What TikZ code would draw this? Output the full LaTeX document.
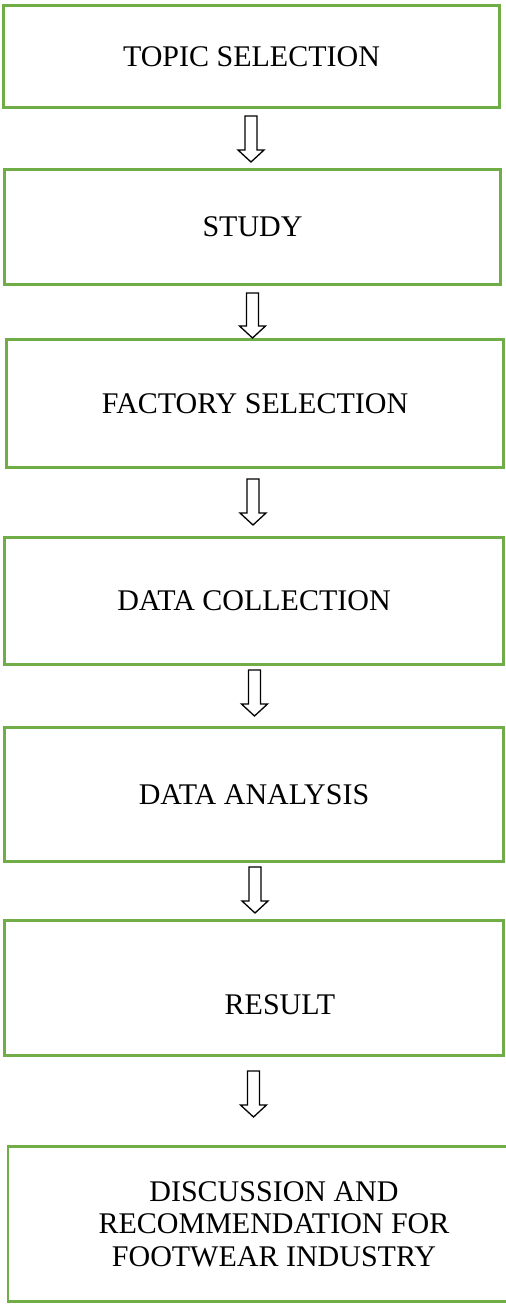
\documentclass[tikz,border=0pt]{standalone}
\usepackage{fontspec}
\setmainfont{Liberation Serif}
\usetikzlibrary{calc}
\definecolor{boxgreen}{HTML}{70AD47}
\tikzset{
  stepbox/.style={draw=boxgreen, line width=2.6pt, fill=white, rectangle,
    inner sep=0pt, outer sep=0pt, align=center,
    font=\fontsize{30}{32.5}\selectfont},
  arrowline/.style={draw=black, line width=1.3pt, fill=white, line join=miter}
}
\newcommand\myblockarrow[2]{%
  \draw[arrowline] let \p1=(#1), \p2=(#2) in
    (\x1-6pt,\y1) -- (\x1+6pt,\y1) -- (\x1+6pt,\y2+12pt) -- (\x1+13pt,\y2+12pt)
    -- (\x1,\y2) -- (\x1-13pt,\y2+12pt) -- (\x1-6pt,\y2+12pt) -- cycle;}
\begin{document}
\begin{tikzpicture}[x=1pt,y=-1pt]
\useasboundingbox (0,0) rectangle (506,1304);
\fill[white] (0,0) rectangle (506,1304);

\node[stepbox, minimum width=496pt, minimum height=102pt] (b1) at (251.5,56.5) {TOPIC SELECTION};
\node[stepbox, minimum width=496pt, minimum height=115pt] (b2) at (252.5,227) {STUDY};
\node[stepbox, minimum width=497pt, minimum height=128pt] (b3) at (255,403.5) {FACTORY SELECTION};
\node[stepbox, minimum width=499pt, minimum height=127pt] (b4) at (254,601) {DATA COLLECTION};
\node[stepbox, minimum width=499pt, minimum height=134pt] (b5) at (254,794.5) {DATA ANALYSIS};
\node[stepbox, minimum width=499pt, minimum height=135pt,
  label={[font=\fontsize{30}{32.5}\selectfont, xshift=26pt, yshift=-17pt]center:RESULT}] (b6) at (254,988) {};
\node[stepbox, minimum width=532pt, minimum height=155.5pt] (b7) at (274,1224)
  {DISCUSSION AND\\RECOMMENDATION FOR\\FOOTWEAR INDUSTRY};

\coordinate (a1s) at (251,116);   \coordinate (a1t) at (251,162);
\coordinate (a2s) at (252.5,293); \coordinate (a2t) at (252.5,338);
\coordinate (a3s) at (253,479);   \coordinate (a3t) at (253,525);
\coordinate (a4s) at (254.5,670); \coordinate (a4t) at (254.5,716);
\coordinate (a5s) at (255,867);   \coordinate (a5t) at (255,913);
\coordinate (a6s) at (253.5,1071);\coordinate (a6t) at (253.5,1117);

\myblockarrow{a1s}{a1t}
\myblockarrow{a2s}{a2t}
\myblockarrow{a3s}{a3t}
\myblockarrow{a4s}{a4t}
\myblockarrow{a5s}{a5t}
\myblockarrow{a6s}{a6t}
\end{tikzpicture}
\end{document}
